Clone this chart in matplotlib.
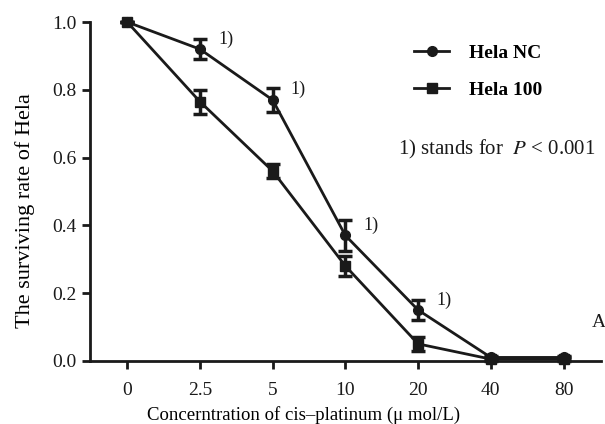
import matplotlib
matplotlib.use("Agg")
import matplotlib.pyplot as plt
from matplotlib.lines import Line2D
import numpy as np

plt.rcParams['font.family'] = ['Liberation Serif', 'DejaVu Serif']
plt.rcParams['mathtext.fontset'] = 'stix'

categories = ["0", "2.5", "5", "10", "20", "40", "80"]
nc_values = [1.0, 0.92, 0.77, 0.37, 0.15, 0.01, 0.01]
nc_err = [0.0, 0.03, 0.035, 0.045, 0.03, 0.005, 0.005]
h100_values = [1.0, 0.765, 0.56, 0.28, 0.05, 0.005, 0.005]
h100_err = [0.0, 0.035, 0.02, 0.03, 0.02, 0.005, 0.005]
sig_idx = [1, 2, 3, 4]

C = '#1a1a1a'
fig = plt.figure(figsize=(6.05, 4.24), dpi=100)
ax = fig.add_axes([0.149, 0.149, 0.845, 0.799])
x = np.arange(len(categories))

ax.errorbar(x, nc_values, yerr=nc_err, color=C, lw=2, marker='o', ms=7,
            capsize=5, capthick=2.5, elinewidth=2.5, clip_on=False)
ax.errorbar(x, h100_values, yerr=h100_err, color=C, lw=2, marker='s', ms=7,
            capsize=5, capthick=2.5, elinewidth=2.5, clip_on=False)

for i in sig_idx:
    ax.annotate('1)', (x[i], nc_values[i]), xytext=(13, 4), textcoords='offset points',
                fontsize=13, color=C)

ax.set_xlim(-0.51, 6.52)
ax.set_ylim(0, 1.0)
ax.set_xticks(x)
ax.set_xticklabels(categories)
ax.set_yticks([0.0, 0.2, 0.4, 0.6, 0.8, 1.0])
ax.set_yticklabels(['0.0', '0.2', '0.4', '0.6', '0.8', '1.0'])
ax.tick_params(direction='out', length=6, width=2, labelsize=14, colors=C, pad=4)
ax.tick_params(axis='x', pad=9)
for s in ['top', 'right']:
    ax.spines[s].set_visible(False)
for s in ['left', 'bottom']:
    ax.spines[s].set_linewidth(2)
    ax.spines[s].set_color(C)

ax.set_ylabel('The surviving rate of Hela', fontsize=16)
ax.yaxis.set_label_coords(-0.108, 0.445)
ax.set_xlabel('Concerntration of cis\u2013platinum (\u03bc mol/L)', fontsize=13.5)
ax.xaxis.set_label_coords(0.417, -0.135)

handles = [Line2D([], [], color=C, lw=2, marker='o', ms=7),
           Line2D([], [], color=C, lw=2, marker='s', ms=7)]
leg = ax.legend(handles, ['Hela NC', 'Hela 100'], loc='upper left',
                bbox_to_anchor=(0.60, 0.985), frameon=False,
                fontsize=14, handlelength=1.8, handletextpad=1.0, labelspacing=1.0)
for t in leg.get_texts():
    t.set_fontweight('bold')

ax.text(0.603, 0.61, '1) stands for  $P$ < 0.001', transform=ax.transAxes, fontsize=15,
        color=C)
ax.text(0.981, 0.10, 'A', transform=ax.transAxes, fontsize=14, color=C)

fig.savefig('out.png', dpi=100)
